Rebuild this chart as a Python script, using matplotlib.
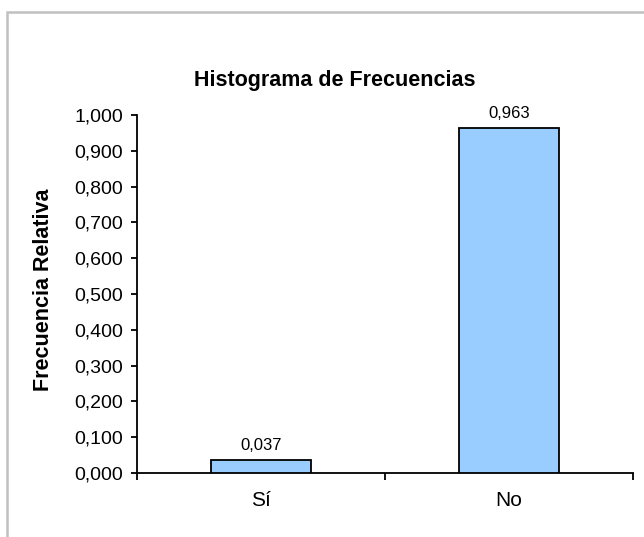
import matplotlib.pyplot as plt
from matplotlib.patches import Rectangle
from matplotlib.ticker import FixedLocator, FuncFormatter

categorias = ["Sí", "No"]
frecuencias = [0.037, 0.963]
etiquetas = ["0,037", "0,963"]
marcas_y = [0.0, 0.1, 0.2, 0.3, 0.4, 0.5, 0.6, 0.7, 0.8, 0.9, 1.0]

plt.rcParams['font.family'] = ['Liberation Sans', 'DejaVu Sans']

fig = plt.figure(figsize=(6.44, 5.37), dpi=100)
ax = fig.add_axes([137/644, 1-473/537, (633-137)/644, (473-115)/537])

# marco gris alrededor del grafico
fig.patches.append(Rectangle((7/644, -0.2), 1.2, 1.2 - 12/537,
                             transform=fig.transFigure, fill=False,
                             edgecolor="#c0c0c0", linewidth=1.8))

pos = [i + 0.5 for i in range(len(categorias))]
barras = ax.bar(pos, frecuencias, width=0.4, color="#99ccff",
                edgecolor="black", linewidth=1.3, zorder=3)
for b, txt in zip(barras, etiquetas):
    ax.annotate(txt, (b.get_x() + b.get_width()/2, b.get_height()),
                xytext=(0, 5), textcoords="offset points",
                ha="center", va="bottom", fontsize=12)

ax.set_xlim(0, len(categorias))
ax.set_ylim(0, 1.0)
ax.xaxis.set_major_locator(FixedLocator(range(len(categorias) + 1)))
ax.xaxis.set_major_formatter(FuncFormatter(lambda v, p: ""))
ax.xaxis.set_minor_locator(FixedLocator(pos))
ax.set_xticklabels(categorias, minor=True)
ax.tick_params(axis="x", which="minor", length=0, pad=13, labelsize=15)
ax.tick_params(axis="x", which="major", length=5, width=1.3, direction="out")

ax.set_yticks(marcas_y)
ax.yaxis.set_major_formatter(FuncFormatter(lambda v, p: f"{v:.3f}".replace(".", ",")))
ax.tick_params(axis="y", length=4, width=1.3, direction="out", pad=6, labelsize=14)

for s in ["top", "right"]:
    ax.spines[s].set_visible(False)
for s in ["left", "bottom"]:
    ax.spines[s].set_linewidth(1.3)

fig.text(335/644, 1-80/537, "Histograma de Frecuencias", ha="center", va="center",
         fontsize=15.5, fontweight="bold")
fig.text(44/644, 1-290/537, "Frecuencia Relativa", ha="center", va="center",
         rotation=90, fontsize=15.5, fontweight="bold")

fig.savefig("out.png", dpi=100)
